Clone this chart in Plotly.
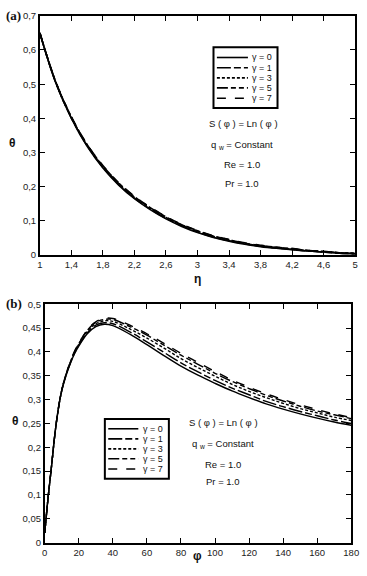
import plotly.graph_objects as go

# ---------------- data ----------------
eta = [1.0, 1.2, 1.4, 1.6, 1.8, 2.0, 2.2, 2.4, 2.6, 2.8, 3.0, 3.2, 3.4, 3.6, 3.8, 4.0, 4.2, 4.4, 4.6, 4.8, 5.0]
theta_a_g0 = [.650, .505, .400, .318, .255, .205, .165, .133, .106, .084, .066, .052, .041, .032, .025, .020, .016, .012, .009, .006, .004]
theta_a_g1 = [.650, .506, .401, .320, .257, .207, .167, .135, .108, .086, .068, .053, .042, .033, .026, .021, .017, .012, .009, .006, .004]
theta_a_g3 = [.650, .507, .403, .322, .259, .209, .169, .137, .110, .088, .070, .055, .044, .034, .027, .022, .018, .013, .010, .007, .005]
theta_a_g5 = [.650, .508, .404, .323, .261, .211, .171, .139, .112, .089, .071, .056, .045, .035, .028, .023, .019, .014, .011, .007, .005]
theta_a_g7 = [.650, .508, .405, .324, .262, .212, .172, .140, .113, .090, .072, .057, .046, .036, .029, .023, .019, .014, .011, .007, .005]

phi = [0, 1, 2, 4, 6, 8, 10, 12.5, 15, 17.5, 20, 25, 30, 35, 40, 50, 60, 70, 80, 90, 100, 110, 120, 130, 140, 150, 160, 170, 180]
theta_b_g0 = [.020, .058, .095, .160, .228, .280, .318, .350, .375, .396, .412, .438, .453, .458, .455, .437, .415, .392, .370, .351, .334, .318, .304, .291, .280, .270, .261, .253, .246]
theta_b_g1 = [.020, .058, .095, .160, .228, .280, .319, .351, .376, .397, .414, .440, .456, .461, .459, .442, .421, .399, .377, .358, .340, .324, .310, .296, .285, .275, .266, .257, .250]
theta_b_g3 = [.020, .058, .095, .160, .228, .281, .319, .352, .377, .399, .416, .443, .459, .465, .464, .448, .429, .408, .386, .367, .349, .332, .317, .304, .292, .281, .272, .263, .256]
theta_b_g5 = [.020, .058, .095, .160, .228, .281, .320, .353, .378, .400, .417, .445, .462, .468, .468, .453, .435, .414, .393, .374, .355, .338, .323, .309, .297, .286, .276, .268, .260]
theta_b_g7 = [.020, .058, .095, .160, .228, .281, .320, .353, .379, .401, .418, .446, .463, .470, .470, .456, .438, .418, .397, .378, .359, .341, .326, .312, .300, .289, .279, .270, .262]

gamma_labels = ["γ = 0", "γ = 1", "γ = 3", "γ = 5", "γ = 7"]

xa_ticks = [1, 1.4, 1.8, 2.2, 2.6, 3, 3.4, 3.8, 4.2, 4.6, 5]
xa_text = ["1", "1,4", "1,8", "2,2", "2,6", "3", "3,4", "3,8", "4,2", "4,6", "5"]
ya_ticks = [0, 0.1, 0.2, 0.3, 0.4, 0.5, 0.6, 0.7]
ya_text = ["0", "0,1", "0,2", "0,3", "0,4", "0,5", "0,6", "0,7"]
xb_ticks = [0, 20, 40, 60, 80, 100, 120, 140, 160, 180]
xb_text = [str(v) for v in xb_ticks]
yb_ticks = [0, 0.05, 0.1, 0.15, 0.2, 0.25, 0.3, 0.35, 0.4, 0.45, 0.5]
yb_text = ["0", "0,05", "0,1", "0,15", "0,2", "0,25", "0,3", "0,35", "0,4", "0,45", "0,5"]

info_lines = ["S ( φ ) = Ln ( φ )", "q <sub>w</sub> = Constant", "Re = 1.0", "Pr = 1.0"]

# ---------------- styles ----------------
dashes = ["solid", "14px,3px,7px,3px", "3px,2px", "11px,3px,5px,3px,5px,3px", "9px,9px"]
W, H = 367, 576
FONT = "Liberation Sans, Arial, sans-serif"
SERIF = "Liberation Serif, Times New Roman, serif"

fig = go.Figure()

series_a = [theta_a_g0, theta_a_g1, theta_a_g3, theta_a_g5, theta_a_g7]
series_b = [theta_b_g0, theta_b_g1, theta_b_g3, theta_b_g5, theta_b_g7]

for lab, ys, d in zip(gamma_labels, series_a, dashes):
    fig.add_trace(go.Scatter(x=eta, y=ys, mode="lines", name=lab, showlegend=False,
                             line=dict(color="black", width=1.6, dash=d, shape="spline"), xaxis="x", yaxis="y"))
for lab, ys, d in zip(gamma_labels, series_b, dashes):
    fig.add_trace(go.Scatter(x=phi, y=ys, mode="lines", name=lab, showlegend=False,
                             line=dict(color="black", width=1.4, dash=d, shape="spline"), xaxis="x2", yaxis="y2"))

def px_x(p):
    return p / W

def px_y(p):
    return 1 - p / H

axis_common = dict(showline=True, linecolor="black", linewidth=1.6, mirror="ticks", ticks="inside", ticklen=5,
                   tickwidth=1.2, tickcolor="black", showgrid=False, zeroline=False,
                   tickfont=dict(family=FONT, size=9.5, color="#222"))

fig.update_layout(
    width=W, height=H, margin=dict(l=0, r=0, t=0, b=0), paper_bgcolor="white", plot_bgcolor="white",
    showlegend=False,
    xaxis=dict(domain=[px_x(38), px_x(363)], range=[1, 5], tickvals=xa_ticks, ticktext=xa_text, anchor="y", **axis_common),
    yaxis=dict(domain=[px_y(254), px_y(10)], range=[0, 0.7], tickvals=ya_ticks, ticktext=ya_text, anchor="x", **axis_common),
    xaxis2=dict(domain=[px_x(43), px_x(359)], range=[0, 180], tickvals=xb_ticks, ticktext=xb_text, anchor="y2", **axis_common),
    yaxis2=dict(domain=[px_y(547), px_y(304)], range=[0, 0.5], tickvals=yb_ticks, ticktext=yb_text, anchor="x2", **axis_common),
)

ann = []
shapes = []

def txt(x, y, s, size=10, bold=False, family=FONT, xanchor="center"):
    if bold:
        s = "<b>" + s + "</b>"
    ann.append(dict(x=px_x(x), y=px_y(y), xref="paper", yref="paper", text=s, showarrow=False,
                    font=dict(family=family, size=size, color="#111"), xanchor=xanchor, yanchor="middle"))

def legend_box(x0, y0, x1, y1, rows, lx0, lx1, tx):
    shapes.append(dict(type="rect", xref="paper", yref="paper", x0=px_x(x0), x1=px_x(x1), y0=px_y(y1), y1=px_y(y0),
                       line=dict(color="black", width=2), fillcolor="white", layer="above"))
    for lab, d, ry in zip(gamma_labels, dashes, rows):
        shapes.append(dict(type="line", xref="paper", yref="paper", x0=px_x(lx0), x1=px_x(lx1), y0=px_y(ry), y1=px_y(ry),
                           line=dict(color="black", width=1.6, dash=d), layer="above"))
        txt(tx, ry, lab, size=9, xanchor="left")

# legends
legend_box(217, 42, 283, 104, [52.5, 63, 73.3, 83.5, 94], 220.5, 252.5, 255)
legend_box(105, 421, 171, 482, [431, 441.3, 451.5, 461.5, 472], 108.5, 139.5, 142)

# panel labels
txt(11, 10, "(a)", size=13, bold=True, family=SERIF)
txt(11, 303, "(b)", size=13, bold=True, family=SERIF)
# axis titles
txt(10, 140, "θ", size=12, bold=True)
txt(200, 278, "η", size=12, bold=True)
txt(13, 423, "θ", size=12, bold=True)
txt(201, 561, "φ", size=12, bold=True)
# info texts
for s, xx, yy in zip(info_lines, [248, 246, 246, 246], [120, 142, 162, 181]):
    txt(xx, yy, s, size=9.5)
for s, yy in zip(info_lines, [425, 447, 467, 485]):
    txt(227, yy, s, size=9.5)

fig.update_layout(annotations=ann, shapes=shapes)
fig.write_html(
    "out.html",
    config={"displayModeBar": False, "responsive": False},
    default_width="367px",
    default_height="576px",
    post_script="document.documentElement.style.overflow='hidden';document.body.style.margin='0px';document.body.style.overflow='hidden';",
)
